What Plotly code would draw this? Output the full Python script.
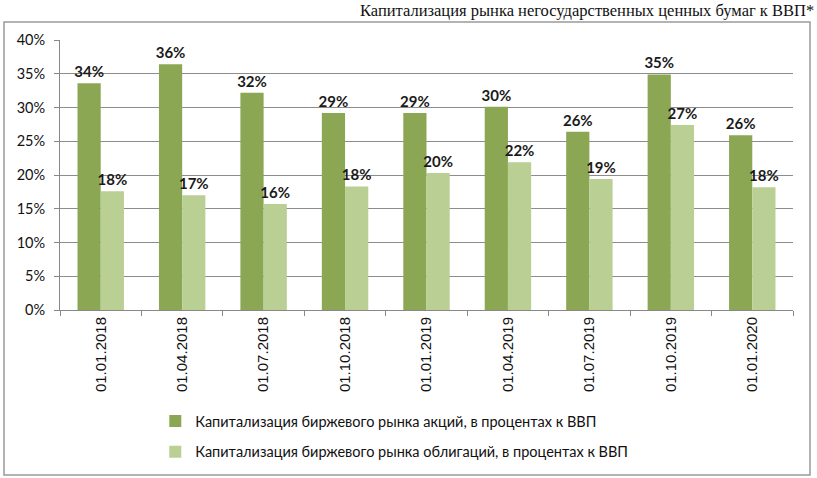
import plotly.graph_objects as go

# Капитализация рынка негосударственных ценных бумаг к ВВП
dates = ["01.01.2018", "01.04.2018", "01.07.2018", "01.10.2018", "01.01.2019",
         "01.04.2019", "01.07.2019", "01.10.2019", "01.01.2020"]
stocks = [33.6, 36.4, 32.2, 29.2, 29.2, 30.1, 26.4, 34.9, 25.9]
bonds = [17.6, 17.0, 15.7, 18.3, 20.3, 21.9, 19.4, 27.4, 18.2]

stocks_name = "Капитализация биржевого рынка акций, в процентах к ВВП"
bonds_name = "Капитализация биржевого рынка облигаций, в процентах к ВВП"
title = "Капитализация рынка негосударственных ценных бумаг к ВВП*"

label_font = dict(family="Lato", size=15, color="#1a1a1a", weight="bold")

fig = go.Figure()
fig.add_trace(go.Bar(
    x=dates, y=stocks, name=stocks_name, legendgroup="a",
    marker=dict(color="#8BA753", line=dict(width=0)),
    texttemplate="%{y:.0f}%", textposition="outside", textfont=label_font,
    constraintext="none", cliponaxis=False,
))
fig.add_trace(go.Bar(
    x=dates, y=bonds, name=bonds_name, legendgroup="b",
    marker=dict(color="#B9CF94", line=dict(width=0)),
    texttemplate="%{y:.0f}%", textposition="outside", textfont=label_font,
    constraintext="none", cliponaxis=False,
))

fig.update_layout(
    width=817, height=478,
    margin=dict(l=60, r=24, t=40, b=168, autoexpand=False),
    paper_bgcolor="white", plot_bgcolor="white",
    barmode="group", bargap=0.43, bargroupgap=0,
    font=dict(family="Lato", size=14, color="#222"),
    showlegend=True,
    legend=dict(
        x=0.13, y=-0.352, xanchor="left", yanchor="top",
        orientation="v", traceorder="grouped", tracegroupgap=9,
        font=dict(family="Lato", size=14.5, color="#111"),
        itemwidth=30,
    ),
)

fig.update_xaxes(
    type="category", tickangle=-90, automargin=False,
    tickfont=dict(family="Liberation Sans", size=15, color="#111"),
    showline=True, linecolor="#888", linewidth=1,
    ticks="outside", tickson="boundaries", ticklen=5, tickcolor="#888",
    showgrid=False,
)
fig.update_yaxes(
    range=[0, 40], dtick=5, ticksuffix="%", automargin=False,
    tickfont=dict(family="Lato", size=14.5, color="#111"),
    showline=True, linecolor="#888", linewidth=1,
    ticks="outside", ticklen=5, tickcolor="#888", ticklabelstandoff=6,
    showgrid=True, gridcolor="#8c8c8c", gridwidth=1,
    zeroline=False,
)

# outer frame of the chart
fig.add_shape(type="rect", xref="paper", yref="paper",
              x0=-0.0764, x1=1.0232, y0=-0.611, y1=1.0667,
              line=dict(color="#9a9a9a", width=1.5), fillcolor="rgba(0,0,0,0)",
              layer="below")

# title, right-aligned to the page edge
fig.add_annotation(
    text=title, xref="paper", yref="paper", x=1.0315, y=1.11,
    xanchor="right", yanchor="middle", showarrow=False,
    font=dict(family="Liberation Serif", size=16.5, color="#111"),
)

fig.write_html("out.html", config={"displayModeBar": False},
               post_script="document.body.style.margin='0';")
